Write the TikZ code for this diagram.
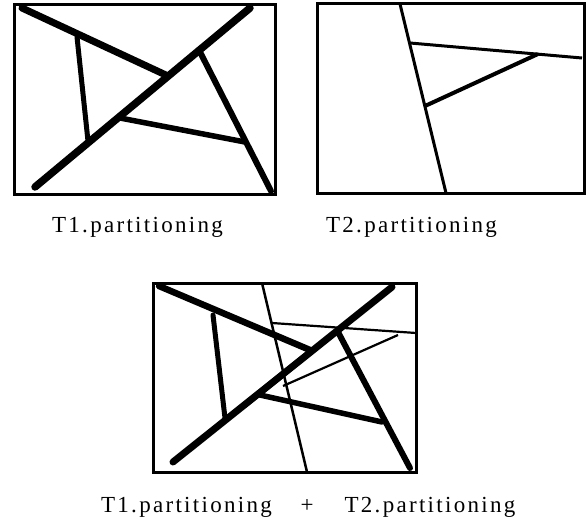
\documentclass[tikz,border=0pt]{standalone}
\usepackage{fontspec}
\newfontfamily\lblfont[LetterSpace=10]{Liberation Serif}
\begin{document}
\begin{tikzpicture}[x=1pt,y=-1pt,
  frame/.style={line width=3pt},
  heavy/.style={line width=#1, line cap=round},
  heavy/.default=6pt,
  light/.style={line width=#1, line cap=butt},
  light/.default=2.5pt,
  lbl/.style={font=\fontsize{23}{26}\selectfont\lblfont, inner sep=0pt}]
\useasboundingbox (0,0) rectangle (587,527);
% ---------- panel 1: T1 ----------
\draw[frame] (14,5) rectangle (275,194);
\coordinate (a1) at (22,8);   \coordinate (a2) at (168,76);
\coordinate (b1) at (35,187); \coordinate (b2) at (250,8);
\coordinate (c1) at (77,37);  \coordinate (c2) at (88,141);
\coordinate (d1) at (200,52); \coordinate (d2) at (271,191);
\coordinate (e1) at (120,118);\coordinate (e2) at (245,142);
\draw[heavy=7pt] (a1) -- (a2);
\draw[heavy=7.5pt] (b1) -- (b2);
\draw[heavy=5pt] (c1) -- (c2);
\draw[heavy=6pt] (d1) -- (d2);
\draw[heavy=5.5pt] (e1) -- (e2);
% ---------- panel 2: T2 ----------
\draw[frame] (317,4) rectangle (584,193);
\coordinate (f1) at (400,4);  \coordinate (f2) at (446,193);
\coordinate (g1) at (410,43); \coordinate (g2) at (582,58);
\coordinate (h1) at (425,106);\coordinate (h2) at (538,54);
\draw[light=3pt] (f1) -- (f2);
\draw[light=3pt] (g1) -- (g2);
\draw[light=4pt] (h1) -- (h2);
% ---------- panel 3: T1 + T2 ----------
\draw[frame] (153,283) rectangle (416,472);
\coordinate (pa1) at (159,286); \coordinate (pa2) at (310,350);
\coordinate (pb1) at (173,462); \coordinate (pb2) at (392,287);
\coordinate (pc1) at (213,315); \coordinate (pc2) at (225,418);
\coordinate (pd1) at (338,332); \coordinate (pd2) at (410,468);
\coordinate (pe1) at (260,395); \coordinate (pe2) at (382,422);
\coordinate (pf1) at (262,283); \coordinate (pf2) at (307,472);
\coordinate (pg1) at (272,323); \coordinate (pg2) at (416,333);
\coordinate (ph1) at (283,386); \coordinate (ph2) at (398,335);
\draw[heavy=6.5pt] (pa1) -- (pa2);
\draw[heavy=7pt] (pb1) -- (pb2);
\draw[heavy=5pt] (pc1) -- (pc2);
\draw[heavy=6pt] (pd1) -- (pd2);
\draw[heavy=5.5pt] (pe1) -- (pe2);
\draw[light=2.5pt] (pf1) -- (pf2);
\draw[light=2.2pt] (pg1) -- (pg2);
\draw[light=2.2pt] (ph1) -- (ph2);
% ---------- labels ----------
\node[lbl, anchor=base] (l1) at (137.5,232) {T1.partitioning};
\node[lbl, anchor=base] (l2) at (411.5,232) {T2.partitioning};
\node[lbl, anchor=base] (l3) at (186.5,512) {T1.partitioning};
\node[lbl, anchor=base] (l4) at (307,512) {+};
\node[lbl, anchor=base] (l5) at (430,512) {T2.partitioning};
\end{tikzpicture}
\end{document}
